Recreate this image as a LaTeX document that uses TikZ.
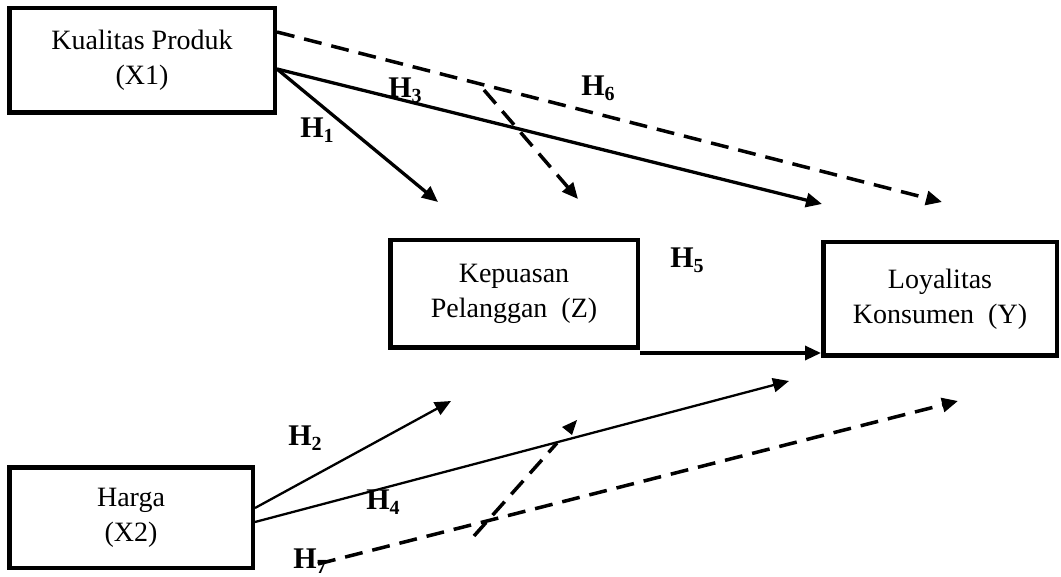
\documentclass[tikz,border=0pt]{standalone}
\usepackage{fontspec}
\setmainfont{Liberation Serif}
\usetikzlibrary{arrows.meta}
\tikzset{
  boxnode/.style={draw, line width=4.5pt, align=center, inner sep=0pt,
    font=\fontsize{28}{35}\selectfont},
  hlabel/.style={inner sep=0pt, font=\fontsize{30}{30}\selectfont\bfseries},
  tipa/.style={-{Triangle[length=16pt,width=14pt]}},
  thickarrow/.style={tipa, line width=3.3pt},
  thinarrow/.style={tipa, line width=2.3pt},
  dasharrow/.style={tipa, line width=3.5pt, dash pattern=on 18pt off 10pt},
  dashline/.style={line width=3.5pt, dash pattern=on 18pt off 10pt}
}
\newcommand{\hlab}[1]{H\raisebox{-5pt}{\fontsize{20}{20}\selectfont #1}}
\begin{document}
\begin{tikzpicture}[x=1pt,y=-1pt]
\useasboundingbox (0,0) rectangle (1061,577);
% boxes
\node[boxnode, minimum width=265.5pt, minimum height=104.5pt] (X1) at (142,60.5) {Kualitas Produk\\(X1)};
\node[boxnode, minimum width=247.5pt, minimum height=107.5pt] (Z) at (514,294) {Kepuasan\\Pelanggan~~(Z)};
\node[boxnode, minimum width=233.5pt, minimum height=113.5pt] (Y) at (940,299) {Loyalitas\\Konsumen~~(Y)};
\node[boxnode, minimum width=243.5pt, minimum height=100.5pt] (X2) at (131,517.5) {Harga\\(X2)};
% free ends
\coordinate (h1e) at (438,202);
\coordinate (h3e) at (822,204);
\coordinate (h6e) at (942,202);
\coordinate (m1s) at (484,90);
\coordinate (m1e) at (578,199);
\coordinate (h2e) at (451,401);
\coordinate (h4e) at (789,381);
\coordinate (h7s) at (318,564);
\coordinate (h7e) at (958,401);
\coordinate (m2s) at (474,536);
\coordinate (m2e) at (557,443);
\coordinate (h5s) at ([yshift=-3pt]Z.south east);
% top connectors
\draw[dasharrow] ([yshift=28.5pt]X1.east) -- (h6e);
\draw[thickarrow] ([yshift=-8.5pt]X1.east) -- (h1e);
\draw[thickarrow] ([yshift=-8.5pt]X1.east) -- (h3e);
\draw[dasharrow] (m1s) -- (m1e);
% H5
\draw[thickarrow] (h5s) -- (Y.west |- h5s);
% bottom connectors
\draw[thinarrow] ([yshift=9.5pt]X2.east) -- (h2e);
\draw[thinarrow] ([yshift=-4.5pt]X2.east) -- (h4e);
\draw[dasharrow] (h7s) -- (h7e);
\draw[dashline] (m2s) -- (m2e);
\fill (562,427) -- (577,420) -- (572,435) -- cycle;
% labels
\node[hlabel] (L1) at (317,130) {\hlab{1}};
\node[hlabel] (L3) at (405,90) {\hlab{3}};
\node[hlabel] (L6) at (598,88) {\hlab{6}};
\node[hlabel] (L5) at (687,260) {\hlab{5}};
\node[hlabel] (L2) at (305,438) {\hlab{2}};
\node[hlabel] (L4) at (383,502) {\hlab{4}};
\node[hlabel] (L7) at (310,561) {\hlab{7}};
\end{tikzpicture}
\end{document}
